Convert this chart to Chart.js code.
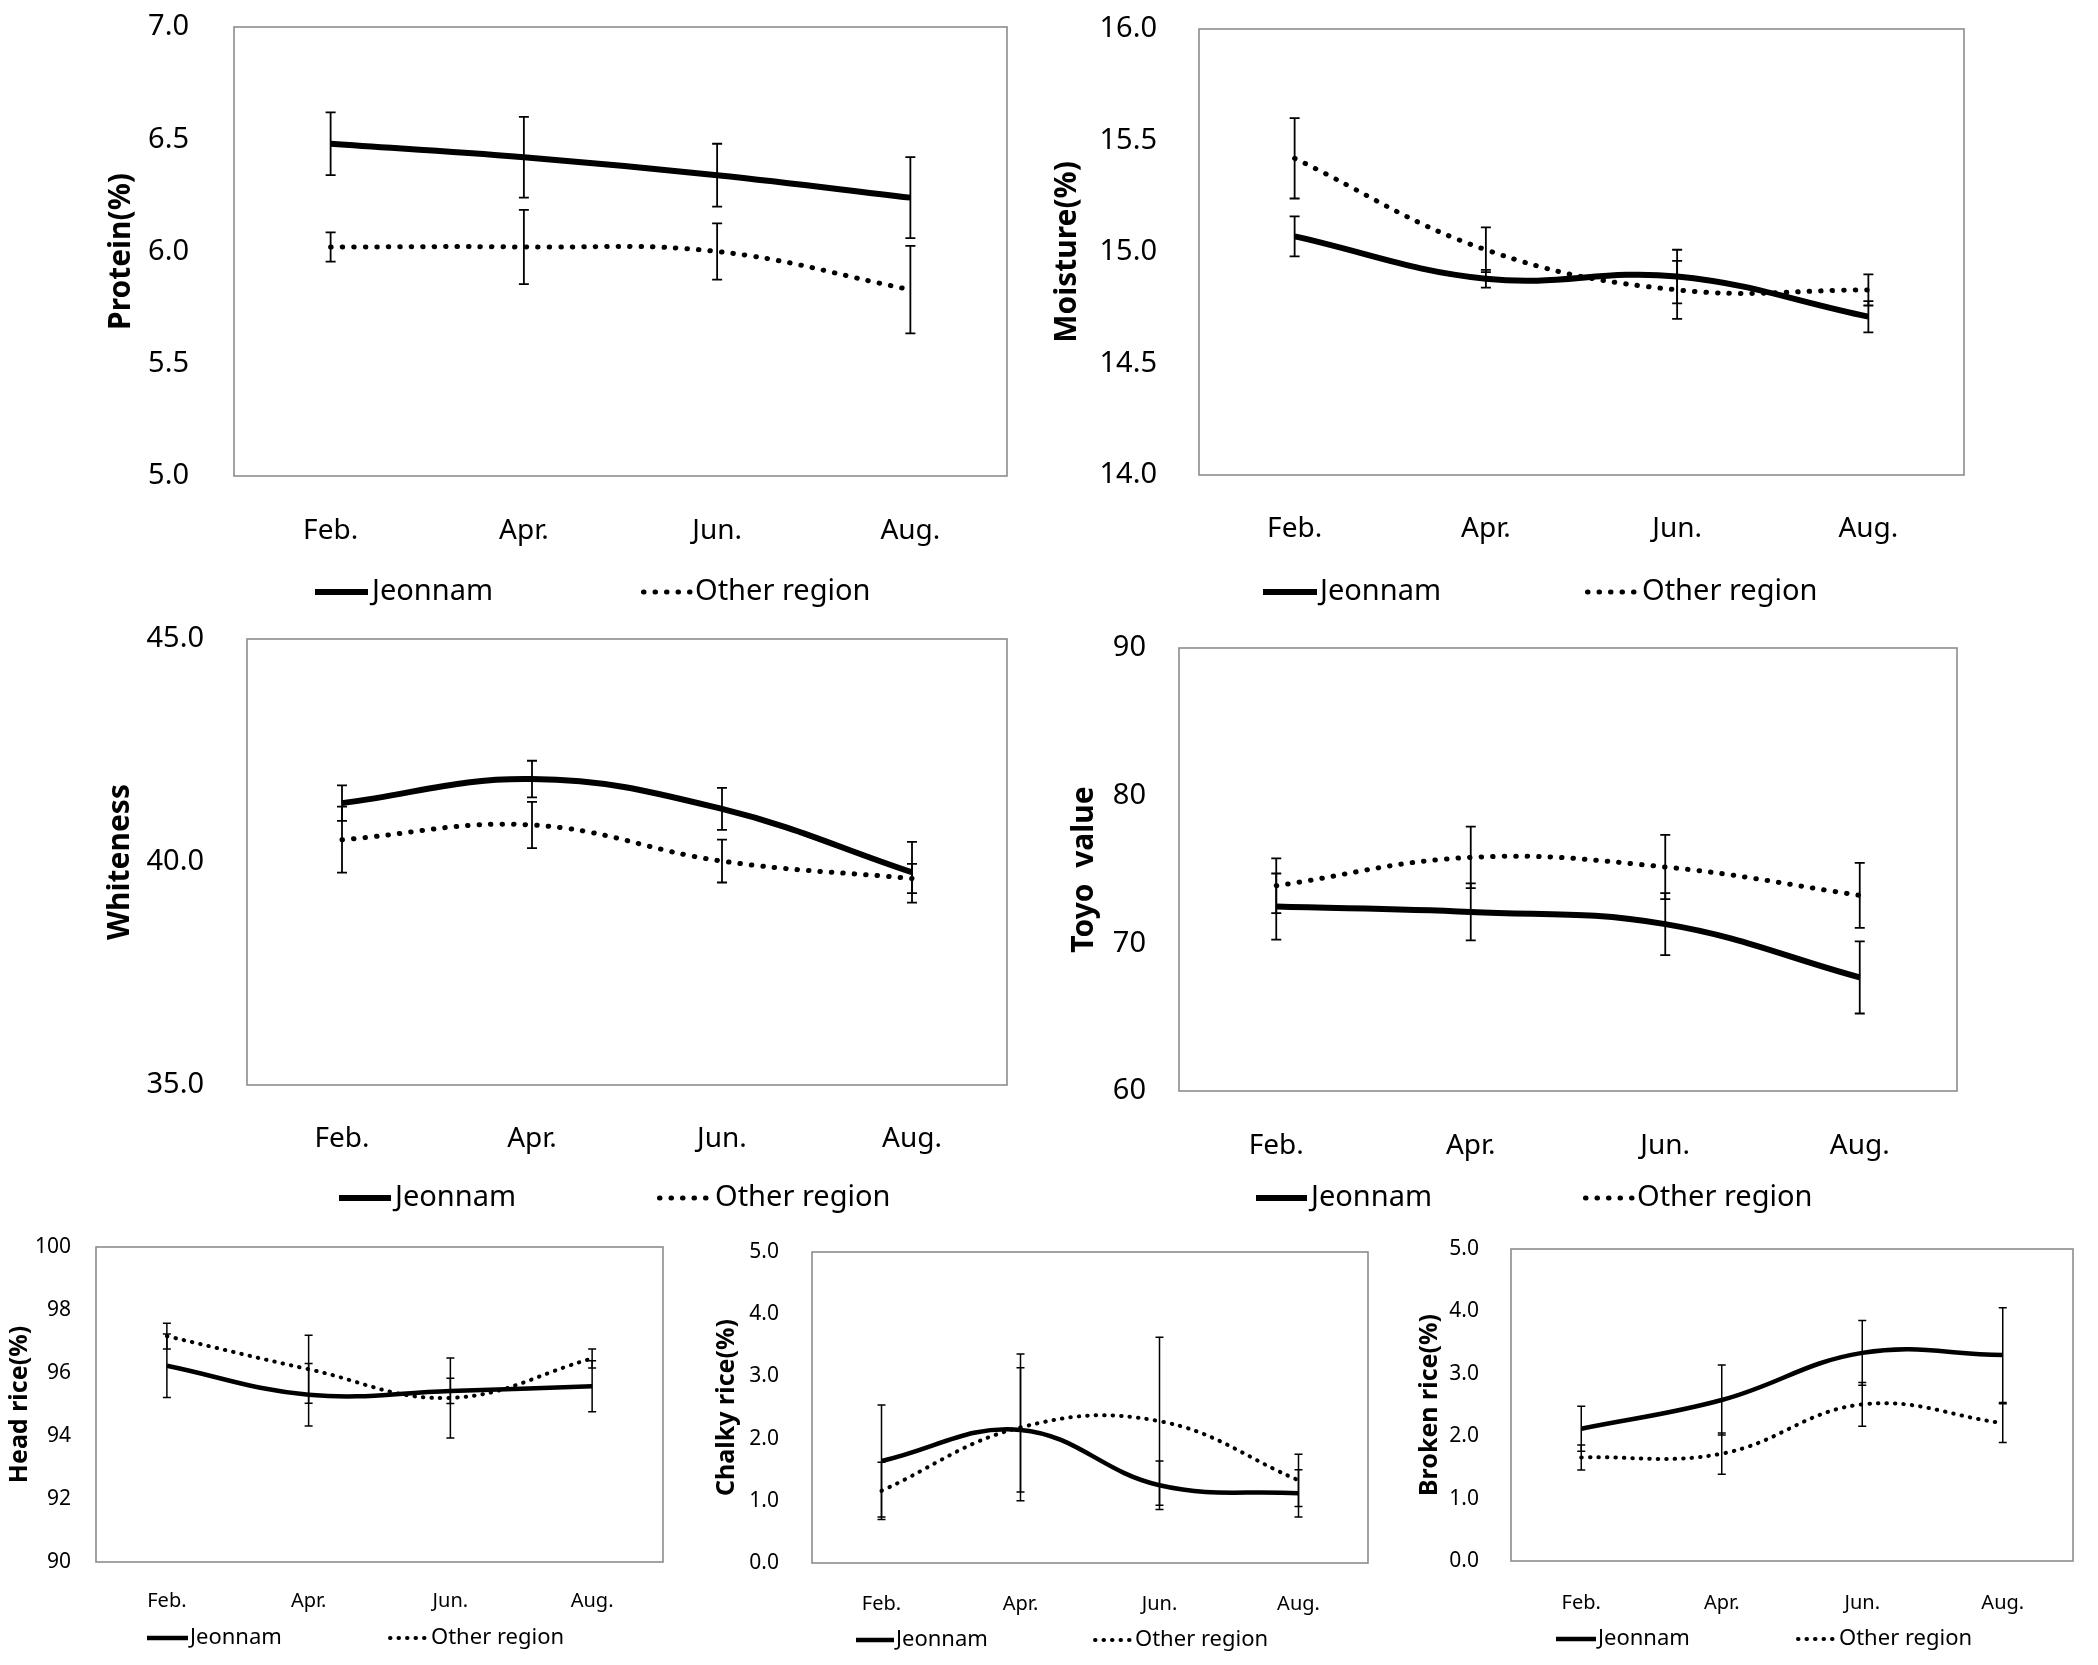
<!DOCTYPE html>
<html>
<head>
<meta charset="utf-8">
<script src="https://cdn.jsdelivr.net/npm/chart.js@4.4.1/dist/chart.umd.min.js"></script>
<style>
    html, body {margin: 0; padding: 0; background: #fff;}
    body {width: 2098px; height: 1665px; position: relative; overflow: hidden;}
    .panel {position: absolute;}
</style>
</head>
<body>
<div id="board"></div>
<script>
const months = ['Feb.', 'Apr.', 'Jun.', 'Aug.'];
const seriesNames = ['Jeonnam', 'Other region'];

// Protein(%)
const proteinJeonnam = [6.48, 6.42, 6.34, 6.24];
const proteinJeonnamErr = [0.14, 0.18, 0.14, 0.18];
const proteinOther = [6.02, 6.02, 6.00, 5.83];
const proteinOtherErr = [0.065, 0.165, 0.125, 0.195];
const proteinTicks = ['5.0', '5.5', '6.0', '6.5', '7.0'];

// Moisture(%)
const moistureJeonnam = [15.07, 14.88, 14.89, 14.71];
const moistureJeonnamErr = [0.09, 0.04, 0.12, 0.07];
const moistureOther = [15.42, 15.01, 14.83, 14.83];
const moistureOtherErr = [0.18, 0.10, 0.13, 0.07];
const moistureTicks = ['14.0', '14.5', '15.0', '15.5', '16.0'];

// Whiteness
const whiteJeonnam = [41.32, 41.86, 41.19, 39.77];
const whiteJeonnamErr = [0.40, 0.41, 0.47, 0.68];
const whiteOther = [40.50, 40.83, 40.02, 39.63];
const whiteOtherErr = [0.74, 0.52, 0.48, 0.33];
const whiteTicks = ['35.0', '40.0', '45.0'];

// Toyo value
const toyoJeonnam = [72.49, 72.13, 71.3, 67.69];
const toyoJeonnamErr = [2.24, 1.93, 2.1, 2.44];
const toyoOther = [73.9, 75.82, 75.17, 73.25];
const toyoOtherErr = [1.86, 2.08, 2.17, 2.2];
const toyoTicks = ['60', '70', '80', '90'];

// Head rice(%)
const headJeonnam = [96.23, 95.31, 95.43, 95.58];
const headJeonnamErr = [1.01, 0.99, 0.40, 0.81];
const headOther = [97.17, 96.12, 95.21, 96.46];
const headOtherErr = [0.41, 1.08, 1.27, 0.30];
const headTicks = ['90', '92', '94', '96', '98', '100'];

// Chalky rice(%)
const chalkyJeonnam = [1.64, 2.14, 1.25, 1.12];
const chalkyJeonnamErr = [0.90, 1.0, 0.39, 0.38];
const chalkyOther = [1.16, 2.18, 2.28, 1.33];
const chalkyOtherErr = [0.46, 1.18, 1.35, 0.42];
const chalkyTicks = ['0.0', '1.0', '2.0', '3.0', '4.0', '5.0'];

// Broken rice(%)
const brokenJeonnam = [2.12, 2.58, 3.335, 3.30];
const brokenJeonnamErr = [0.36, 0.56, 0.52, 0.76];
const brokenOther = [1.66, 1.72, 2.51, 2.21];
const brokenOtherErr = [0.20, 0.33, 0.35, 0.31];
const brokenTicks = ['0.0', '1.0', '2.0', '3.0', '4.0', '5.0'];

const styles = {
    big: {tick: 29, xlabel: 28, legend: 29, title: 30, line: 6, dot: 5, dash: [0.5, 11], err: 1.8, cap: 5},
    small: {tick: 21, xlabel: 20, legend: 22, title: 25, line: 4.5, dot: 4, dash: [0.5, 8], err: 1.5, cap: 4}
};

const panels = [
    {title: 'Protein(%)', ticks: proteinTicks, j: proteinJeonnam, jErr: proteinJeonnamErr, o: proteinOther, oErr: proteinOtherErr,
        box: {l: 234, t: 27, r: 1007, b: 476}, titleX: 121, tickRight: 189, xLabelY: 531, legendY: 592, legJ: [315, 368, 372], legO: [641, 692, 695], size: 'big'},
    {title: 'Moisture(%)', ticks: moistureTicks, j: moistureJeonnam, jErr: moistureJeonnamErr, o: moistureOther, oErr: moistureOtherErr,
        box: {l: 1199, t: 29, r: 1964, b: 475}, titleX: 1067, tickRight: 1157, xLabelY: 529, legendY: 592, legJ: [1263, 1317, 1320], legO: [1585, 1637, 1642], size: 'big'},
    {title: 'Whiteness', ticks: whiteTicks, j: whiteJeonnam, jErr: whiteJeonnamErr, o: whiteOther, oErr: whiteOtherErr,
        box: {l: 247, t: 639, r: 1007, b: 1085}, titleX: 120, tickRight: 204, xLabelY: 1139, legendY: 1198, legJ: [339, 391, 395], legO: [657, 712, 715], size: 'big'},
    {title: 'Toyo  value', ticks: toyoTicks, j: toyoJeonnam, jErr: toyoJeonnamErr, o: toyoOther, oErr: toyoOtherErr,
        box: {l: 1179, t: 648, r: 1957, b: 1091}, titleX: 1084, tickRight: 1146, xLabelY: 1146, legendY: 1198, legJ: [1256, 1307, 1311], legO: [1583, 1634, 1637], size: 'big'},
    {title: 'Head rice(%)', ticks: headTicks, j: headJeonnam, jErr: headJeonnamErr, o: headOther, oErr: headOtherErr,
        box: {l: 96, t: 1247, r: 663, b: 1562}, titleX: 20, tickRight: 71, xLabelY: 1601, legendY: 1638, legJ: [147, 188, 190], legO: [388, 429, 431], size: 'small'},
    {title: 'Chalky rice(%)', ticks: chalkyTicks, j: chalkyJeonnam, jErr: chalkyJeonnamErr, o: chalkyOther, oErr: chalkyOtherErr,
        box: {l: 812, t: 1252, r: 1368, b: 1563}, titleX: 727, tickRight: 779, xLabelY: 1604, legendY: 1640, legJ: [856, 894, 896], legO: [1093, 1133, 1135], size: 'small'},
    {title: 'Broken rice(%)', ticks: brokenTicks, j: brokenJeonnam, jErr: brokenJeonnamErr, o: brokenOther, oErr: brokenOtherErr,
        box: {l: 1511, t: 1249, r: 2073, b: 1561}, titleX: 1430, tickRight: 1479, xLabelY: 1603, legendY: 1639, legJ: [1556, 1596, 1598], legO: [1796, 1836, 1839], size: 'small'}
];

const FONT = '"Noto Sans", "DejaVu Sans", sans-serif';

const boxPlugin = {
    id: 'plotBox',
    beforeDatasetsDraw(chart) {
        const {ctx, chartArea: a} = chart;
        ctx.save();
        ctx.strokeStyle = '#8c8c8c';
        ctx.lineWidth = 1.6;
        ctx.strokeRect(a.left, a.top, a.right - a.left, a.bottom - a.top);
        ctx.restore();
    }
};

const errorBarPlugin = {
    id: 'errorBars',
    afterDatasetsDraw(chart, args, opts) {
        const {ctx} = chart;
        const y = chart.scales.y;
        ctx.save();
        ctx.strokeStyle = '#000';
        ctx.lineWidth = opts.width;
        chart.data.datasets.forEach((ds, i) => {
            const meta = chart.getDatasetMeta(i);
            meta.data.forEach((pt, k) => {
                const v = ds.data[k], e = ds.errors[k];
                const y1 = y.getPixelForValue(v + e), y2 = y.getPixelForValue(v - e);
                ctx.beginPath();
                ctx.moveTo(pt.x, y1); ctx.lineTo(pt.x, y2);
                ctx.moveTo(pt.x - opts.cap, y1); ctx.lineTo(pt.x + opts.cap, y1);
                ctx.moveTo(pt.x - opts.cap, y2); ctx.lineTo(pt.x + opts.cap, y2);
                ctx.stroke();
            });
        });
        ctx.restore();
    }
};

const legendPlugin = {
    id: 'panelLegend',
    afterDraw(chart, args, opts) {
        const {ctx} = chart;
        const y = opts.y;
        ctx.save();
        ctx.strokeStyle = '#000';
        ctx.lineWidth = opts.line;
        ctx.beginPath();
        ctx.moveTo(opts.j[0], y); ctx.lineTo(opts.j[1], y);
        ctx.stroke();
        ctx.lineWidth = opts.dot;
        ctx.lineCap = 'round';
        ctx.setLineDash(opts.dash);
        ctx.beginPath();
        ctx.moveTo(opts.o[0] + opts.dot / 2, y); ctx.lineTo(opts.o[1], y);
        ctx.stroke();
        ctx.setLineDash([]);
        ctx.fillStyle = '#000';
        ctx.font = `${opts.size}px ${FONT}`;
        ctx.textBaseline = 'middle';
        ctx.textAlign = 'left';
        ctx.fillText(seriesNames[0], opts.j[2], y);
        ctx.fillText(seriesNames[1], opts.o[2], y);
        ctx.restore();
    }
};

const board = document.getElementById('board');
const padRight = 12;

panels.forEach(p => {
    const st = styles[p.size];
    const yPad = p.box.l - p.tickRight;
    // the y scale asks for half a label plus its tick padding above the plot
    const padTop = Math.ceil(0.7 * st.tick + yPad + 6);
    const left = p.titleX - 0.6 * st.title;
    const top = p.box.t - padTop;
    const yW = p.box.l - left;
    const xH = Math.max(p.legendY + 25 - p.box.b, 0.7 * st.tick + yPad + 6);
    const width = p.box.r + padRight - left;
    const height = padTop + (p.box.b - p.box.t) + xH;

    const div = document.createElement('div');
    div.className = 'panel';
    div.style.left = left + 'px';
    div.style.top = top + 'px';
    div.style.width = width + 'px';
    div.style.height = height + 'px';
    const canvas = document.createElement('canvas');
    div.appendChild(canvas);
    board.appendChild(div);

    const tickVals = p.ticks.map(Number);
    const shift = pts => pts.map(v => v - left);

    new Chart(canvas, {
        type: 'line',
        data: {
            labels: months,
            datasets: [{
                label: seriesNames[0],
                data: p.j,
                errors: p.jErr,
                borderColor: '#000',
                borderWidth: st.line,
                tension: 0.4,
                pointRadius: 0,
                fill: false
            }, {
                label: seriesNames[1],
                data: p.o,
                errors: p.oErr,
                borderColor: '#000',
                borderWidth: st.dot,
                borderDash: st.dash,
                borderCapStyle: 'round',
                tension: 0.4,
                pointRadius: 0,
                fill: false
            }]
        },
        options: {
            responsive: true,
            maintainAspectRatio: false,
            animation: false,
            layout: {padding: {left: 0, top: padTop, right: padRight, bottom: 0}},
            plugins: {
                legend: {display: false},
                tooltip: {enabled: false},
                errorBars: {width: st.err, cap: st.cap},
                panelLegend: {
                    y: p.legendY - top,
                    j: shift(p.legJ),
                    o: shift(p.legO),
                    size: st.legend, line: st.line, dot: st.dot, dash: st.dash
                }
            },
            scales: {
                x: {
                    type: 'category',
                    offset: true,
                    grid: {display: false, drawTicks: false},
                    border: {display: false},
                    ticks: {
                        padding: p.xLabelY - p.box.b - 0.6 * st.xlabel,
                        font: {family: FONT, size: st.xlabel},
                        color: '#000',
                        maxRotation: 0,
                        autoSkip: false
                    },
                    afterFit: s => { s.height = xH; }
                },
                y: {
                    min: tickVals[0],
                    max: tickVals[tickVals.length - 1],
                    grid: {display: false, drawTicks: false},
                    border: {display: false},
                    ticks: {
                        stepSize: tickVals[1] - tickVals[0],
                        padding: yPad,
                        font: {family: FONT, size: st.tick},
                        color: '#000',
                        callback: v => p.ticks.find(t => Math.abs(Number(t) - v) < 1e-6) ?? ''
                    },
                    title: {
                        display: true,
                        text: p.title,
                        color: '#000',
                        padding: 0,
                        font: {family: FONT, size: st.title, weight: 'bold'}
                    },
                    afterFit: s => { s.width = yW; }
                }
            }
        },
        plugins: [boxPlugin, errorBarPlugin, legendPlugin]
    });
});
</script>
</body>
</html>
